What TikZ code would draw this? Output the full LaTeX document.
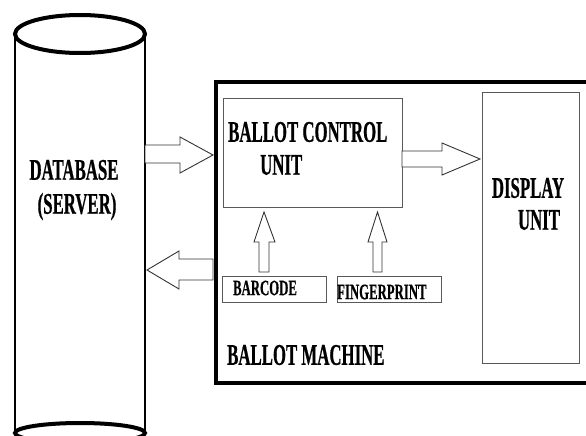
\documentclass[tikz,border=0pt]{standalone}
\usepackage{fontspec}
\newfontfamily\cf[FakeStretch=0.56,FakeBold=0.6]{Liberation Serif}
\newfontfamily\cfs[FakeStretch=0.58,FakeBold=0.5]{Liberation Serif}
\begin{document}
\begin{tikzpicture}[x=1pt,y=-1pt,
  big/.style={font=\cf\bfseries\fontsize{30}{34}\selectfont, inner sep=0pt},
  small/.style={font=\cfs\bfseries\fontsize{22}{24}\selectfont, inner sep=0pt},
  thinbox/.style={draw=black!65, line width=1.3pt},
  blockarrow/.style={draw=black!80, line width=0.9pt, fill=white, line join=miter},
]
\useasboundingbox (0,0) rectangle (586,436);
\clip (0,0) rectangle (586,436);
\fill[white] (0,0) rectangle (586,436);

% database cylinder
\draw[line width=2.5pt] (15,34) -- (15,432) (145,34) -- (145,432);
\draw[line width=4pt, fill=white] (80,34) ellipse [x radius=65, y radius=19];
\draw[line width=4pt] (80,433) ellipse [x radius=65, y radius=10];
\node[big, align=center] (db) at (74,190) {DATABASE\\\hspace*{6pt}(SERVER)};

% ballot machine
\draw[line width=4pt] (216,82) rectangle (600,383);
\node[big, anchor=west] (bm) at (227,355) {BALLOT MACHINE};

% ballot control unit
\node[thinbox, minimum width=179pt, minimum height=109pt, anchor=north west] (bcu) at (223,98) {};
\node[big, anchor=west] (bcu1) at (228,132) {BALLOT CONTROL};
\node[big, anchor=west] (bcu2) at (260,165) {UNIT};

% display unit
\node[thinbox, minimum width=97pt, minimum height=271pt, anchor=north west] (disp) at (482,92) {};
\node[big] (disp1) at (528,188) {DISPLAY};
\node[big] (disp2) at (539,220) {UNIT};

% barcode & fingerprint
\node[thinbox, minimum width=104pt, minimum height=26pt, anchor=north west] (bar) at (222,276) {};
\node[small] (bart) at (265,288) {BARCODE};
\node[thinbox, minimum width=104pt, minimum height=26pt, anchor=north west] (fp) at (337,276) {};
\node[small, anchor=west] (fpt) at (337,292) {FINGERPRINT};

% block arrows
\draw[blockarrow] (145,145) -- (180,145) -- (180,137) -- (213,155) -- (180,173) -- (180,163) -- (145,163) -- cycle;
\draw[blockarrow] (402,151) -- (442,151) -- (442,143) -- (480,159) -- (442,175) -- (442,167) -- (402,167) -- cycle;
\draw[blockarrow] (213,259) -- (179,259) -- (179,251) -- (147,270) -- (179,289) -- (179,280) -- (213,280) -- cycle;
\draw[blockarrow] (259,272) -- (259,242) -- (254,242) -- (264,212) -- (275,242) -- (269,242) -- (269,272) -- cycle;
\draw[blockarrow] (373,272) -- (373,242) -- (368,242) -- (377.5,212) -- (387,242) -- (382,242) -- (382,272) -- cycle;
\end{tikzpicture}
\end{document}
